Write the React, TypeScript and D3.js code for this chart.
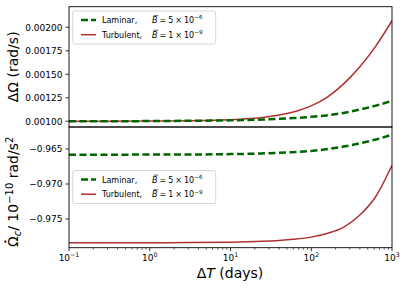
import React from 'react';
import * as d3 from 'd3';

// sampled off the reference curves
const days = [0.1, 0.3, 1, 3, 10, 16, 25, 40, 60, 100, 160, 250, 400, 630, 1000];
const laminarDOmega = [0.001, 0.001, 0.001002, 0.001005, 0.00101, 0.001014, 0.001019, 0.001026, 0.001034, 0.001047, 0.001064, 0.001088, 0.001125, 0.001166, 0.001218];
const turbulentDOmega = [0.001, 0.001, 0.0010016, 0.001005, 0.0010165, 0.001026, 0.001041, 0.001066, 0.001099, 0.001164, 0.00126, 0.001395, 0.00158, 0.0018, 0.00207];
const laminarOmegaDot = [-0.96581, -0.96581, -0.9658, -0.96579, -0.96573, -0.96569, -0.96563, -0.96555, -0.96545, -0.96528, -0.96501, -0.96466, -0.96419, -0.96365, -0.96295];
const turbulentOmegaDot = [-0.97839, -0.97839, -0.97838, -0.97837, -0.97831, -0.97826, -0.97819, -0.97807, -0.97791, -0.97759, -0.97704, -0.97619, -0.97444, -0.97179, -0.96734];

const topTicks = [0.001, 0.00125, 0.0015, 0.00175, 0.002];
const bottomTicks = [-0.975, -0.97, -0.965];
const xTicks = [0.1, 1, 10, 100, 1000];
const xTickExp = ['\u22121', '0', '1', '2', '3'];

const legendNames = ['Laminar,', 'Turbulent,'];
const legendMant = ['5', '1'];
const legendExp = ['\u22126', '\u22129'];
const legendColors = ['#006400', '#b03030'];

const GREEN = '#006400';
const RED = '#b03030';
const FONT = 'DejaVu Sans';

const W = 407;
const H = 290;
const left = 69;
const right = 392;
const top = 6.7;
const mid = 127;
const bottom = 247.7;

const x = d3.scaleLog().domain([0.1, 1000]).range([left, right]);
const yTop = d3.scaleLinear().domain([0.000939, 0.002219]).range([mid, top]);
const yBot = d3.scaleLinear().domain([-0.9791, -0.96186]).range([bottom, mid]);

const mkLine = (y: d3.ScaleLinear<number, number>, vals: number[]) =>
  d3
    .line<number>()
    .x((d) => x(d))
    .y((_, i) => y(vals[i]))
    .curve(d3.curveMonotoneX)(days) as string;

const minorTicks: number[] = [];
for (let e = -1; e < 3; e++) {
  for (let m = 2; m < 10; m++) minorTicks.push(m * Math.pow(10, e));
}

const Legend = ({ y0 }: { y0: number }) => (
  <g fontSize={8}>
    <rect x={72.7} y={y0} width={143} height={33} rx={2} fill="white" fillOpacity={0.8} stroke="#cccccc" strokeWidth={0.8} />
    {legendNames.map((name, i) => {
      const cy = y0 + 9 + i * 14.7;
      const by = cy + 3;
      const bx = 152;
      return (
        <g key={name}>
          <line
            x1={81}
            x2={96}
            y1={cy}
            y2={cy}
            stroke={legendColors[i]}
            strokeWidth={i === 0 ? 2.5 : 1.5}
            strokeDasharray={i === 0 ? '7,3' : undefined}
          />
          <text x={102} y={by}>
            {name}
          </text>
          <text x={bx} y={by} fontStyle="italic">B</text>
          <line x1={bx + 1.6} x2={bx + 6.2} y1={by - 7.4} y2={by - 7.4} stroke="black" strokeWidth={0.6} />
          <text x={bx + 7.5} y={by}>=</text>
          <text x={bx + 16.2} y={by}>{legendMant[i]}</text>
          <text x={bx + 23.3} y={by}>{'\u00d7'}</text>
          <text x={bx + 32} y={by}>10</text>
          <text x={bx + 42.3} y={by - 3.6} fontSize={5.6}>{legendExp[i]}</text>
        </g>
      );
    })}
  </g>
);

const App = () => {
  return (
    <svg width={W} height={H} style={{ position: 'absolute', left: 0, top: 0 }} fontFamily={FONT}>
      <defs>
        <clipPath id="clipTop">
          <rect x={left} y={top} width={right - left} height={mid - top} />
        </clipPath>
        <clipPath id="clipBot">
          <rect x={left} y={mid} width={right - left} height={bottom - mid} />
        </clipPath>
      </defs>
      <rect width={W} height={H} fill="white" />

      {/* top panel */}
      <g clipPath="url(#clipTop)">
        <path d={mkLine(yTop, turbulentDOmega)} fill="none" stroke={RED} strokeWidth={1.5} />
        <path d={mkLine(yTop, laminarDOmega)} fill="none" stroke={GREEN} strokeWidth={2.5} strokeDasharray="7,3.5" />
      </g>
      {topTicks.map((t) => (
        <g key={t}>
          <line x1={left - 3.5} x2={left} y1={yTop(t)} y2={yTop(t)} stroke="black" strokeWidth={0.8} />
          <text x={left - 6.5} y={yTop(t) + 3.3} fontSize={9} textAnchor="end">
            {t.toFixed(5)}
          </text>
        </g>
      ))}

      {/* bottom panel */}
      <g clipPath="url(#clipBot)">
        <path d={mkLine(yBot, turbulentOmegaDot)} fill="none" stroke={RED} strokeWidth={1.5} />
        <path d={mkLine(yBot, laminarOmegaDot)} fill="none" stroke={GREEN} strokeWidth={2.5} strokeDasharray="7,3.5" />
      </g>
      {bottomTicks.map((t) => (
        <g key={t}>
          <line x1={left - 3.5} x2={left} y1={yBot(t)} y2={yBot(t)} stroke="black" strokeWidth={0.8} />
          <text x={left - 6.5} y={yBot(t) + 3.3} fontSize={9} textAnchor="end">
            {'\u2212' + Math.abs(t).toFixed(3)}
          </text>
        </g>
      ))}
      {minorTicks.map((t) => (
        <line key={t} x1={x(t)} x2={x(t)} y1={bottom} y2={bottom + 2} stroke="black" strokeWidth={0.6} />
      ))}
      {xTicks.map((t, i) => (
        <g key={t}>
          <line x1={x(t)} x2={x(t)} y1={bottom} y2={bottom + 3.5} stroke="black" strokeWidth={0.8} />
          <text x={x(t)} y={bottom + 12.8} fontSize={9} textAnchor="middle">
            10
            <tspan dy={-3.5} fontSize={6.3}>{xTickExp[i]}</tspan>
          </text>
        </g>
      ))}

      <Legend y0={11} />
      <Legend y0={170.5} />

      {/* frames */}
      <rect x={left} y={top} width={right - left} height={mid - top} fill="none" stroke="black" strokeWidth={0.9} />
      <rect x={left} y={mid} width={right - left} height={bottom - mid} fill="none" stroke="black" strokeWidth={0.9} />

      {/* axis labels */}
      <text transform={`translate(18,${(top + mid) / 2}) rotate(-90)`} fontSize={14} textAnchor="middle">
        {'\u0394\u03a9 (rad/s)'}
      </text>
      <g transform="translate(18,247) rotate(-90)">
        <text x={0} y={0} fontSize={14}>
          {'\u03a9'}
          <tspan dy={3} fontSize={10} fontStyle="italic">c</tspan>
          <tspan dy={-3}>/ 10</tspan>
          <tspan dy={-5.5} fontSize={10}>{'\u221210'}</tspan>
          <tspan dy={5.5}> rad/s</tspan>
          <tspan dy={-5.5} fontSize={10}>2</tspan>
        </text>
        <circle cx={5.3} cy={-12.6} r={1.1} fill="black" />
      </g>
      <text x={230} y={278} fontSize={14} textAnchor="middle">
        {'\u0394'}
        <tspan fontStyle="italic">T</tspan> (days)
      </text>
    </svg>
  );
};

export default App;
